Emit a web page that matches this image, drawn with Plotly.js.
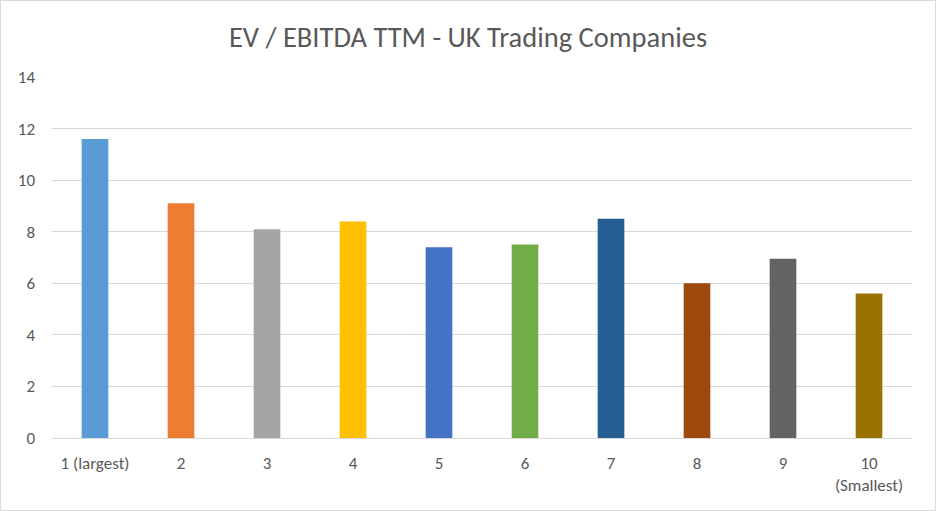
<!DOCTYPE html>
<html>
<head>
<meta charset="utf-8">
<script src="https://cdn.plot.ly/plotly-3.0.1.min.js"></script>
<style>
  html, body { margin: 0; padding: 0; background: #fff; }
  #chart { width: 934px; height: 509px; border: 1px solid #d9d9d9; }
</style>
</head>
<body>
<div id="chart"></div>
<script>
const categories = ["1 (largest)", "2", "3", "4", "5", "6", "7", "8", "9", "10<br>(Smallest)"];
const values = [11.6, 9.1, 8.1, 8.4, 7.4, 7.5, 8.5, 6.0, 6.95, 5.6];
const barColors = ["#5B9BD5", "#ED7D31", "#A5A5A5", "#FFC000", "#4472C4", "#70AD47", "#255E91", "#9E480E", "#636363", "#997300"];
const yTicks = [0, 2, 4, 6, 8, 10, 12, 14];

const font = "Calibri, Carlito, Lato, 'Open Sans', sans-serif";

Plotly.newPlot("chart", [{
  type: "bar",
  x: categories,
  y: values,
  marker: { color: barColors },
  hoverinfo: "x+y"
}], {
  width: 934,
  height: 509,
  margin: { l: 51, r: 23, t: 76, b: 72 },
  paper_bgcolor: "#ffffff",
  plot_bgcolor: "#ffffff",
  bargap: 0.69,
  showlegend: false,
  title: {
    text: "EV / EBITDA TTM - UK Trading Companies",
    font: { family: font, size: 28.5, color: "#595959" },
    x: 0.5, xanchor: "center",
    y: 0.93, yanchor: "middle"
  },
  xaxis: {
    type: "category",
    showgrid: false,
    showline: false,
    zeroline: false,
    ticks: "",
    tickangle: 0,
    ticklabelstandoff: 13,
    tickfont: { family: font, size: 17, color: "#595959" }
  },
  yaxis: {
    range: [0, 14],
    tickvals: yTicks,
    ticktext: yTicks.map(String),
    showgrid: true,
    gridcolor: "#d9d9d9",
    gridwidth: 1.3,
    zeroline: true,
    zerolinecolor: "#d9d9d9",
    zerolinewidth: 1.3,
    showline: false,
    ticks: "",
    ticklabelstandoff: 16,
    tickfont: { family: font, size: 17, color: "#595959" }
  }
}, { displayModeBar: false, staticPlot: false });
</script>
</body>
</html>
